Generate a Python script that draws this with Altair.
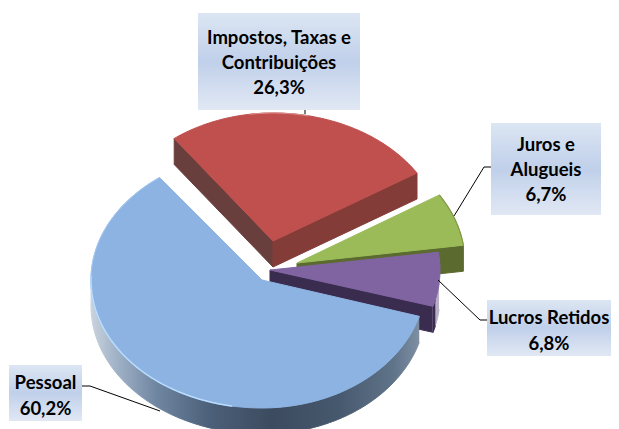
import math
import altair as alt
import pandas as pd

categories = ["Pessoal", "Impostos, Taxas e Contribuições", "Juros e Alugueis", "Lucros Retidos"]
values = [60.2, 26.3, 6.7, 6.8]

W, H = 611, 429
M = 8
RX, RY, THICK = 170, 128, 26
START = 106.5  # clockwise from the top, where the first slice begins
apex = {"Pessoal": (262, 280), "Impostos, Taxas e Contribuições": (273, 241),
        "Juros e Alugueis": (297, 263), "Lucros Retidos": (270, 270)}
# horizontal radius on the (left, right) of each slice's apex: the perspective narrows some sides
radii = {"Pessoal": (171, 164), "Impostos, Taxas e Contribuições": (165, 170),
         "Juros e Alugueis": (170, 168), "Lucros Retidos": (170, 170)}
top_col = {"Pessoal": "#8db3e2", "Impostos, Taxas e Contribuições": "#c0504d",
           "Juros e Alugueis": "#9bbb59", "Lucros Retidos": "#8064a2"}
side_col = {"Pessoal": "#3d4d63", "Impostos, Taxas e Contribuições": "#843c39",
            "Juros e Alugueis": "#5b6b30", "Lucros Retidos": "#3a2c4f"}

xs = alt.Scale(domain=[M, W], range=[0, W - M])
ys = alt.Scale(domain=[M, H], range=[0, H - M])


def enc(**kw):
    return dict(x=alt.X("x:Q", scale=xs, axis=None), y=alt.Y("y:Q", scale=ys, axis=None), **kw)


def poly(pts, fill, stroke=None, width=1):
    df = pd.DataFrame({"x": [p[0] for p in pts], "y": [p[1] for p in pts], "o": range(len(pts))})
    return alt.Chart(df).mark_line(fill=fill, stroke=stroke or fill, strokeWidth=width, clip=False).encode(
        **enc(order=alt.Order("o:Q")))


def path(pts, stroke, width=1):
    df = pd.DataFrame({"x": [p[0] for p in pts], "y": [p[1] for p in pts], "o": range(len(pts))})
    return alt.Chart(df).mark_line(stroke=stroke, strokeWidth=width).encode(**enc(order=alt.Order("o:Q")))


def pt(name, t, dz=0):
    c = apex[name]
    a = math.radians(t)
    s = math.sin(a)
    rx = radii[name][0] if s < 0 else radii[name][1]
    return (c[0] + rx * s, c[1] - RY * math.cos(a) + dz)


def arc(name, t0, t1, dz=0):
    n = max(2, int(abs(t1 - t0)) + 1)
    return [pt(name, t0 + (t1 - t0) * i / (n - 1), dz) for i in range(n)]


angles = {}
t = START
for name, v in zip(categories, values):
    angles[name] = (t, t + v / 100 * 360)
    t += v / 100 * 360


def top(name):
    c = apex[name]
    a0, a1 = angles[name]
    return [c] + arc(name, a0, a1) + [c]


def cut(name, a, fill):
    c = apex[name]
    p = pt(name, a)
    return poly([c, p, (p[0], p[1] + THICK), (c[0], c[1] + THICK), c], fill)


def rim(name, t0, t1, fill):
    return poly(arc(name, t0, t1) + arc(name, t1, t0, THICK), fill)


P, I, J, L = categories
layers = []

a0, a1 = angles[I]
layers += [cut(I, a0, "#693f3d"), cut(I, a1 - 360, "#843c39"), poly(top(I), top_col[I])]
layers.append(path(arc(I, 352, 372), "#d98a87", 1.2))

a0, a1 = angles[J]
layers += [cut(J, a1, side_col[J]), poly(top(J), top_col[J]),
           path(arc(J, a0, a1), "#7f9a45", 1.2)]

a0, a1 = angles[L]
layers += [cut(L, a1, side_col[L]), rim(L, a0 + 14, a1, "#b8aec8"), rim(L, a1 - 3, a1, side_col[L]),
           poly(top(L), top_col[L])]

a0, a1 = angles[P]
side_grad = alt.LinearGradient(
    gradient="linear", x1=0, x2=1, y1=0, y2=0,
    stops=[alt.GradientStop(offset=0, color="#c9d3dd"),
           alt.GradientStop(offset=0.08, color="#9fb1c6"),
           alt.GradientStop(offset=0.2, color="#6f86a1"),
           alt.GradientStop(offset=0.36, color="#4c6079"),
           alt.GradientStop(offset=0.55, color="#3c4b5f"),
           alt.GradientStop(offset=0.75, color="#46586d"),
           alt.GradientStop(offset=0.92, color="#5f7389"),
           alt.GradientStop(offset=1, color="#7e8fa2")])
layers += [rim(P, a0, 272, side_grad), poly(top(P), top_col[P]),
           path(arc(P, 190, 272), "#b9dcff", 1.5),
           path(arc(P, 272, a1), "#a4c8f2", 1)]

# leader lines
leaders = [[(305, 110), (305, 114)],
           [(491, 167), (484, 167), (454, 216)],
           [(487, 320), (480, 320), (438, 280)],
           [(82, 386), (90, 386), (160, 411)]]
for seg in leaders:
    layers.append(path(seg, "#000000", 1))

# label boxes
boxes = {I: (198, 360, 13, 110), J: (491, 601, 123, 215), L: (487, 611, 300, 356), P: (9, 82, 365, 421)}
box_grad = alt.LinearGradient(
    gradient="linear", x1=0, x2=0, y1=0, y2=1,
    stops=[alt.GradientStop(offset=0, color="#dce6f3"),
           alt.GradientStop(offset=0.5, color="#c0d0ea"),
           alt.GradientStop(offset=1, color="#e1e8f4")])
for name, (x0, x1, y0, y1) in boxes.items():
    df = pd.DataFrame([{"x": x0, "x2": x1, "y": y0, "y2": y1}])
    layers.append(alt.Chart(df).mark_rect(fill=box_grad).encode(
        x=alt.X("x:Q", scale=xs, axis=None), x2="x2:Q",
        y=alt.Y("y:Q", scale=ys, axis=None), y2="y2:Q"))

pct = {n: f"{v:.1f}".replace(".", ",") + "%" for n, v in zip(categories, values)}
text_rows = []
label_lines = {I: ["Impostos, Taxas e", "Contribuições", pct[I]],
               J: ["Juros e", "Alugueis", pct[J]],
               L: ["Lucros Retidos", pct[L]],
               P: ["Pessoal", pct[P]]}
first_y = {I: 38, J: 145, L: 318, P: 383}
step = {I: 25, J: 25, L: 26, P: 26}
for name, lines in label_lines.items():
    x0, x1, _, _ = boxes[name]
    for i, s in enumerate(lines):
        text_rows.append({"x": (x0 + x1) / 2, "y": first_y[name] + i * step[name], "s": s})
layers.append(alt.Chart(pd.DataFrame(text_rows)).mark_text(
    font="Lato", fontWeight="bold", fontSize=18.5, color="#000000", align="center", baseline="middle"
).encode(**enc(text="s:N")))

chart = alt.layer(*layers).properties(
    width=W - M, height=H - M, padding=0,
    autosize=alt.AutoSizeParams(type="none")
).configure_view(stroke=None)

chart.save("out.html", embed_options={"renderer": "svg", "actions": False})
